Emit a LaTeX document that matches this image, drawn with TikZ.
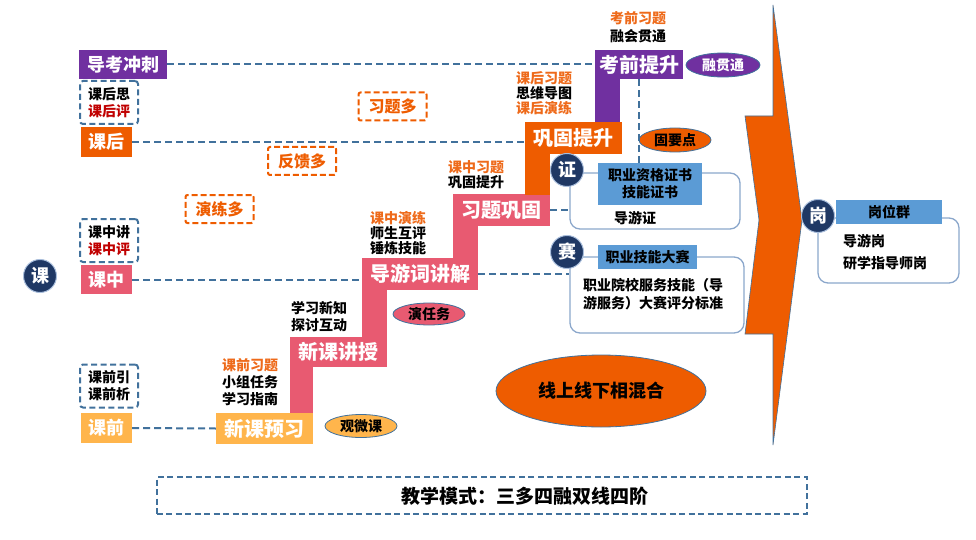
\documentclass[tikz,border=0pt]{standalone}
\usepackage{fontspec}
\setmainfont{Noto Sans CJK SC}
\usetikzlibrary{shapes.geometric,calc}
\definecolor{cpurple}{HTML}{7030A0}
\definecolor{corange}{HTML}{EE5C00}
\definecolor{cpink}{HTML}{E85A71}
\definecolor{clight}{HTML}{FFB54C}
\definecolor{cnavy}{HTML}{1F3864}
\definecolor{cblue}{HTML}{5B9BD5}
\definecolor{cdash}{HTML}{41719C}
\definecolor{ctxt}{HTML}{EE6A1A}
\definecolor{cred}{HTML}{C00000}
\definecolor{cframe}{HTML}{8BA7CB}
\definecolor{cring}{HTML}{A9BEDC}
\begin{document}
\begin{tikzpicture}[x=1pt,y=-1pt,
  tf/.style={font=\fontsize{14}{17}\selectfont\bfseries},
  tfs/.style={font=\fontsize{14}{15}\selectfont\bfseries},
  tm/.style={font=\fontsize{16}{19}\selectfont\bfseries},
  tl/.style={font=\fontsize{18}{21}\selectfont\bfseries},
  tx/.style={font=\fontsize{20}{24}\selectfont\bfseries},
  lbox/.style={rectangle, inner sep=0, text=white, tl},
  sbox/.style={rectangle, inner sep=0, text=white, tx},
  dline/.style={draw=cdash, line width=2pt, dash pattern=on 7pt off 4pt},
  dbox/.style={rectangle, draw=cdash, line width=2pt, dash pattern=on 6pt off 3.5pt, rounded corners=3pt, inner sep=0, align=center, tf, minimum width=58, minimum height=43},
  obox/.style={rectangle, draw=corange, line width=2pt, dash pattern=on 6pt off 3pt, rounded corners=2pt, inner sep=0, text=corange, tm, minimum width=68, minimum height=28},
  captxt/.style={inner sep=0, align=left, tf},
  captxts/.style={inner sep=0, align=left, tfs},
  ell/.style={ellipse, draw=cdash, line width=0.8pt, inner sep=0, tf},
  circ/.style={circle, fill=cnavy, draw=cring, line width=1pt, minimum size=33, inner sep=0, text=white, tl},
  framebox/.style={rectangle, draw=cframe, line width=1.3pt, rounded corners=10pt, inner sep=0},
  bluebox/.style={rectangle, fill=cblue, inner sep=0, align=center, tf}
]
\useasboundingbox (0,0) rectangle (976,540);

% left column
\node[lbox, fill=cpurple, minimum width=88, minimum height=29] (dkcc) at (123,64.5) {导考冲刺};
\node[dbox] (khs) at (109,102.5) {课后思\\\textcolor{cred}{课后评}};
\node[lbox, fill=corange, minimum width=51, minimum height=30] (kh) at (106.5,142) {课后};
\node[dbox] (kzj) at (109,240.5) {课中讲\\\textcolor{cred}{课中评}};
\node[lbox, fill=cpink, minimum width=51, minimum height=29] (kz) at (106.5,279.5) {课中};
\node[circ] (ke) at (40,276) {课};
\node[dbox] (kqy) at (109,386) {课前引\\课前析};
\node[lbox, fill=clight, minimum width=51, minimum height=30] (kq) at (106.5,428) {课前};

% orange dashed labels
\node[obox] (ylw) at (219.5,209) {演练多};
\node[obox] (fkd) at (302,161) {反馈多};
\node[obox] (xtd) at (392.5,106.5) {习题多};

% staircase
\node[sbox, fill=clight, minimum width=97, minimum height=31] (xkyx) at (264.5,428.5) {新课预习};
\fill[cpink] (290,366.5) rectangle (313,413);
\node[sbox, fill=cpink, minimum width=97, minimum height=30] (xkjs) at (338.5,352) {新课讲授};
\fill[cpink] (362,289.5) rectangle (387,337.5);
\node[sbox, fill=cpink, minimum width=116, minimum height=32] (dyc) at (420,274) {导游词讲解};
\fill[cpink] (453,225.5) rectangle (478,258.5);
\node[sbox, fill=cpink, minimum width=97, minimum height=32] (xtgg) at (501.5,210) {习题巩固};
\fill[corange] (525,153.5) rectangle (550,194.5);
\node[sbox, fill=corange, minimum width=97, minimum height=32] (ggts) at (573.5,138) {巩固提升};
\fill[cpurple] (595,78.5) rectangle (620,122.5);
\node[sbox, fill=cpurple, minimum width=88, minimum height=29] (kqts) at (639,64.5) {考前提升};

% captions
\node[captxt, anchor=south west] (c1) at (222,406) {\textcolor{ctxt}{课前习题}\\小组任务\\学习指南};
\node[captxt, anchor=south west] (c2) at (291,332) {学习新知\\探讨互动};
\node[captxts, anchor=south west] (c3) at (370,255) {\textcolor{ctxt}{课中演练}\\师生互评\\锤炼技能};
\node[captxts, anchor=south west] (c4) at (448,189) {\textcolor{ctxt}{课中习题}\\巩固提升};
\node[captxts, anchor=south west] (c5) at (516,115) {\textcolor{ctxt}{课后习题}\\思维导图\\\textcolor{ctxt}{课后演练}};
\node[inner sep=0, align=center, font=\fontsize{14}{18}\selectfont\bfseries, anchor=south] (c6) at (638,43) {\textcolor{ctxt}{考前习题}\\融会贯通};

% dashed connectors from left
\draw[dline] (dkcc.east) -- (kqts.west |- dkcc.east);
\draw[dline] (kh.east) -- (kh.east -| ggts.west);
\draw[dline] (kz.east) -- (kz.east -| dyc.west);
\draw[dline] (kq.east) -- (xkyx.west);

% ellipses
\node[ell, fill=clight, minimum width=72, minimum height=23] (gwk) at (361,426) {观微课};
\node[ell, fill=cpink, minimum width=72, minimum height=22] (yrw) at (429,314) {演任务};
\node[ell, fill=corange, minimum width=72, minimum height=24] (gyd) at (675,140) {固要点};
\node[ell, fill=cpurple, text=white, minimum width=74, minimum height=24] (rgt) at (723,65) {融贯通};
\node[ell, fill=corange, minimum width=210, minimum height=72, tl] (xsxx) at (601,391) {线上线下相混合};

% big arrow
\fill[corange, draw=cdash, line width=0.6pt] (773,5) -- (802,220) -- (773,445) -- (773,334) -- (745,334) -- (759,220) -- (745,116) -- (773,116) -- cycle;

% 证 group
\node[framebox, minimum width=170, minimum height=56] (zbox) at (655,201) {};
\node[bluebox, minimum width=104, minimum height=42] (zgzs) at (650,184) {职业资格证书\\技能证书};
\node[tf, inner sep=0] (dyz) at (635,218) {导游证};
\node[circ] (zheng) at (567,170) {证};

% 赛 group
\node[framebox, minimum width=174, minimum height=76] (saibox) at (657,295) {};
\node[bluebox, minimum width=99, minimum height=24] (zyjn) at (647.5,257) {职业技能大赛};
\node[inner sep=0, align=left, anchor=north west, font=\fontsize{14}{18}\selectfont\bfseries] (pfbz) at (583,278) {职业院校服务技能（导\\游服务）大赛评分标准};
\node[circ] (sai) at (567,252) {赛};

% 岗 group
\node[framebox, minimum width=141, minimum height=65] (gbox) at (888.5,250.5) {};
\node[bluebox, minimum width=106, minimum height=24] (gwq) at (889,212) {岗位群};
\node[inner sep=0, align=left, anchor=north west, font=\fontsize{14}{22}\selectfont\bfseries] (gwl) at (843,234) {导游岗\\研学指导师岗};
\node[circ] (gang) at (818,216) {岗};

% dashed connectors right
\draw[dline] (kqts.south) -- (kqts.south |- zgzs.north);
\draw[dline] (xtgg.east) -- (xtgg.east -| zbox.west);
\draw[dline] (dyc.east) -- (dyc.east -| saibox.west);

% bottom box
\node[rectangle, draw=cdash, line width=2pt, dash pattern=on 6pt off 3.5pt, minimum width=650, minimum height=37, inner sep=0] (modebox) at (481.5,495.5) {};
\node[inner sep=0, font=\fontsize{19}{22}\selectfont\bfseries] (mode) at (525,496) {教学模式：三多四融双线四阶};
\end{tikzpicture}
\end{document}
